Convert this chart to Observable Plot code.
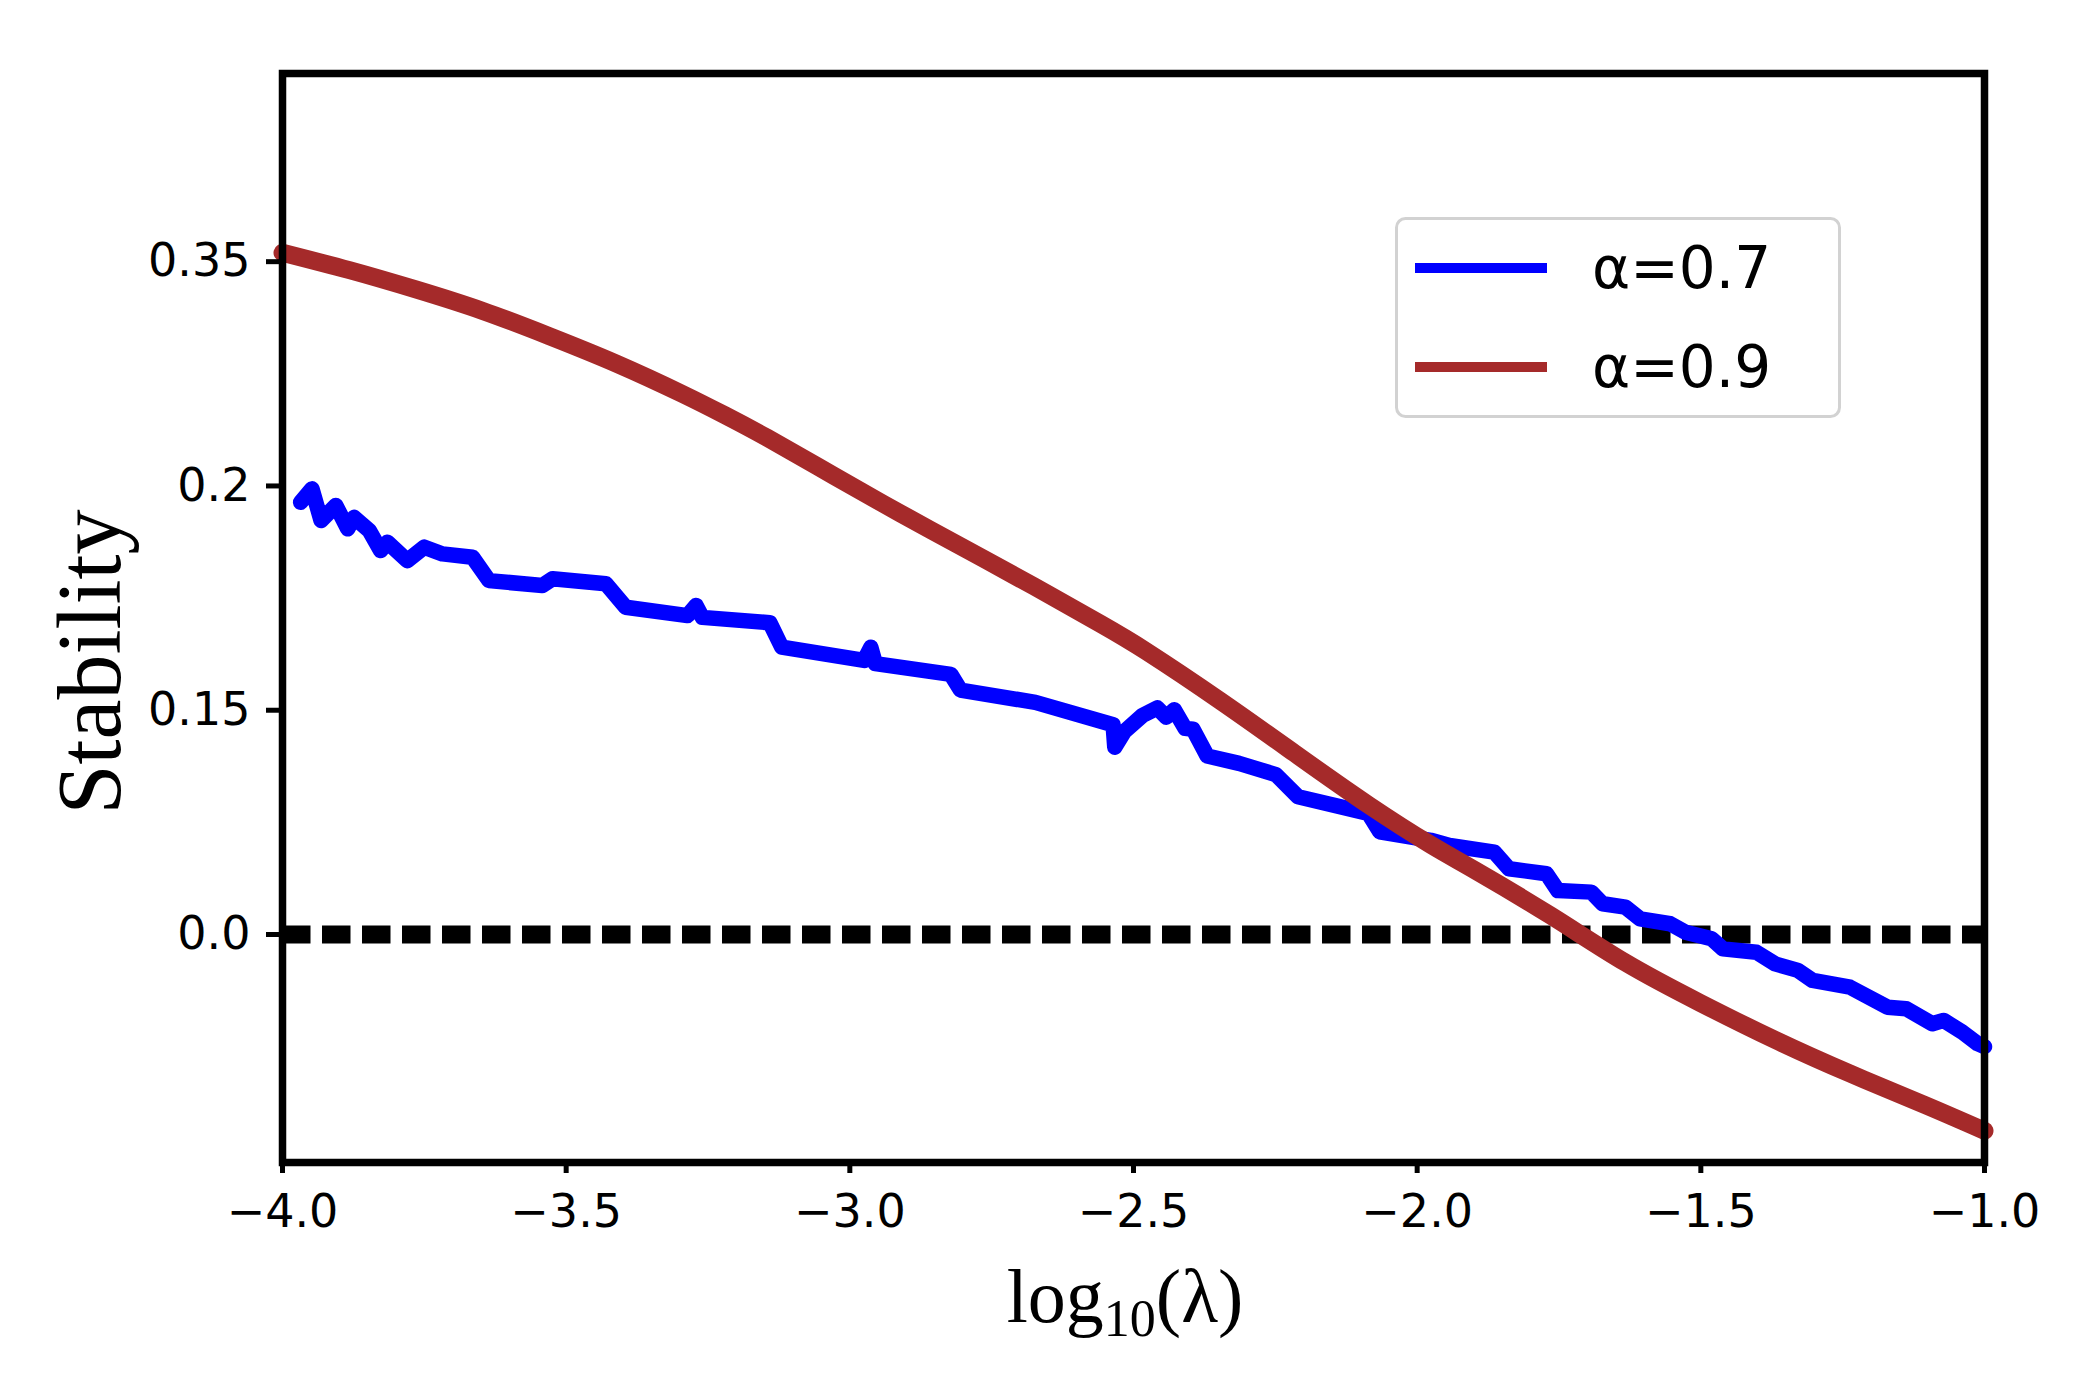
<!DOCTYPE html>
<html>
<head>
<meta charset="utf-8">
<script src="https://cdn.jsdelivr.net/npm/d3@7"></script>
<script src="https://cdn.jsdelivr.net/npm/@observablehq/plot@0.6"></script>
<style>
  html, body { margin: 0; padding: 0; background: #fff; }
  #wrap { position: relative; width: 2095px; height: 1383px; }
  #legend { position: absolute; left: 1395px; top: 217px; }
</style>
</head>
<body>
<div id="wrap"></div>
<script>
// ---- data (y values are in axis-position units; tick labels below) ----
const xTicks = [-4.0, -3.5, -3.0, -2.5, -2.0, -1.5, -1.0];
const yTickPos = [0, 1, 2, 3];
const yTickLabels = ["0.0", "0.15", "0.2", "0.35"];
const seriesNames = ["α=0.7", "α=0.9"];
const seriesColors = ["#0000ff", "#a52a2a"];

const lamBlue = [-3.968,-3.948,-3.932,-3.906,-3.885,-3.874,-3.847,-3.827,-3.815,-3.780,-3.750,-3.718,-3.665,-3.636,-3.542,-3.524,-3.430,-3.395,-3.286,-3.271,-3.260,-3.141,-3.120,-2.975,-2.963,-2.955,-2.822,-2.805,-2.673,-2.536,-2.533,-2.516,-2.484,-2.458,-2.442,-2.428,-2.409,-2.395,-2.370,-2.314,-2.249,-2.210,-2.086,-2.066,-1.976,-1.943,-1.864,-1.838,-1.772,-1.752,-1.693,-1.673,-1.633,-1.607,-1.554,-1.527,-1.481,-1.461,-1.402,-1.369,-1.329,-1.303,-1.237,-1.171,-1.138,-1.092,-1.072,-1.039,-1.012,-1.000];
const stabBlue = [1.927,1.987,1.846,1.913,1.809,1.860,1.801,1.712,1.749,1.667,1.727,1.697,1.682,1.578,1.556,1.586,1.564,1.459,1.422,1.467,1.414,1.390,1.281,1.222,1.281,1.208,1.160,1.090,1.035,0.935,0.835,0.905,0.977,1.010,0.969,1.002,0.919,0.915,0.796,0.763,0.713,0.614,0.540,0.458,0.420,0.397,0.367,0.293,0.271,0.196,0.189,0.137,0.122,0.070,0.048,0.010,-0.019,-0.064,-0.079,-0.131,-0.160,-0.205,-0.235,-0.324,-0.331,-0.398,-0.383,-0.435,-0.487,-0.500];

const lamRed = [-4.000,-3.882,-3.765,-3.647,-3.530,-3.412,-3.295,-3.220,-3.146,-3.028,-2.911,-2.793,-2.676,-2.558,-2.477,-2.347,-2.216,-2.086,-1.976,-1.897,-1.765,-1.633,-1.501,-1.369,-1.237,-1.105,-1.000];
const stabRed = [3.040,2.962,2.876,2.780,2.668,2.546,2.410,2.315,2.215,2.045,1.878,1.715,1.553,1.385,1.262,1.042,0.808,0.578,0.400,0.285,0.085,-0.125,-0.305,-0.470,-0.620,-0.760,-0.875];

const blue = lamBlue.map((x, i) => ({x, y: stabBlue[i]}));
const red = lamRed.map((x, i) => ({x, y: stabRed[i]}));

const W = 2095, H = 1383;
const mL = 282, mR = 111, mT = 73, mB = 221;

const chart = Plot.plot({
  width: W,
  height: H,
  marginLeft: mL,
  marginRight: mR,
  marginTop: mT,
  marginBottom: mB,
  style: {fontFamily: "DejaVu Sans", fontSize: "46px", background: "white", color: "black", overflow: "visible"},
  x: {domain: [-4, -1]},
  y: {domain: [-1.0165, 3.839]},
  marks: [
    Plot.ruleY([0], {stroke: "black", strokeWidth: 18, strokeDasharray: "28.5,11.5", strokeLinecap: "butt"}),
    Plot.line(blue, {x: "x", y: "y", stroke: seriesColors[0], strokeWidth: 15.5, strokeLinejoin: "round"}),
    Plot.line(red, {x: "x", y: "y", stroke: seriesColors[1], strokeWidth: 18, curve: "natural"}),
    Plot.frame({stroke: "black", strokeWidth: 7.5}),
    Plot.axisX({ticks: xTicks, tickFormat: d3.format(".1f"), tickSize: 11, tickPadding: 21, strokeWidth: 5, label: null}),
    Plot.axisY({ticks: yTickPos, tickFormat: d => yTickLabels[yTickPos.indexOf(d)], tickSize: 16, tickPadding: 16, strokeWidth: 5, label: null})
  ]
});

document.getElementById("wrap").appendChild(chart);

// axis titles
const svg = d3.select(chart);
const sx = chart.scale("x");
const xMid = (sx.apply(-4) + sx.apply(-1)) / 2;

svg.append("text")
  .attr("transform", `translate(120, 662) rotate(-90)`)
  .attr("text-anchor", "middle")
  .attr("font-family", "Liberation Serif")
  .attr("font-size", 90)
  .attr("fill", "black")
  .text("Stability");

const xl = svg.append("text")
  .attr("x", xMid - 8)
  .attr("y", 1322)
  .attr("text-anchor", "middle")
  .attr("font-family", "Liberation Serif")
  .attr("font-size", 76)
  .attr("fill", "black");
xl.append("tspan").text("log");
xl.append("tspan").attr("font-size", 52).attr("dy", 14).text("10");
xl.append("tspan").attr("dy", -14).text("(λ)");

// legend
const lg = d3.select("#wrap").append("svg")
  .attr("id", "legend")
  .attr("width", 446).attr("height", 201);
lg.append("rect")
  .attr("x", 1.5).attr("y", 1.5).attr("width", 443).attr("height", 198)
  .attr("rx", 9).attr("fill", "white").attr("stroke", "#d2d2d2").attr("stroke-width", 3);
seriesNames.forEach((name, i) => {
  const yy = 51 + i * 99;
  lg.append("line").attr("x1", 20).attr("x2", 152).attr("y1", yy).attr("y2", yy)
    .attr("stroke", seriesColors[i]).attr("stroke-width", 10);
  lg.append("text").attr("x", 197).attr("y", yy + 20)
    .attr("font-family", "DejaVu Sans").attr("font-size", 58).attr("fill", "black")
    .text(name);
});
</script>
</body>
</html>
